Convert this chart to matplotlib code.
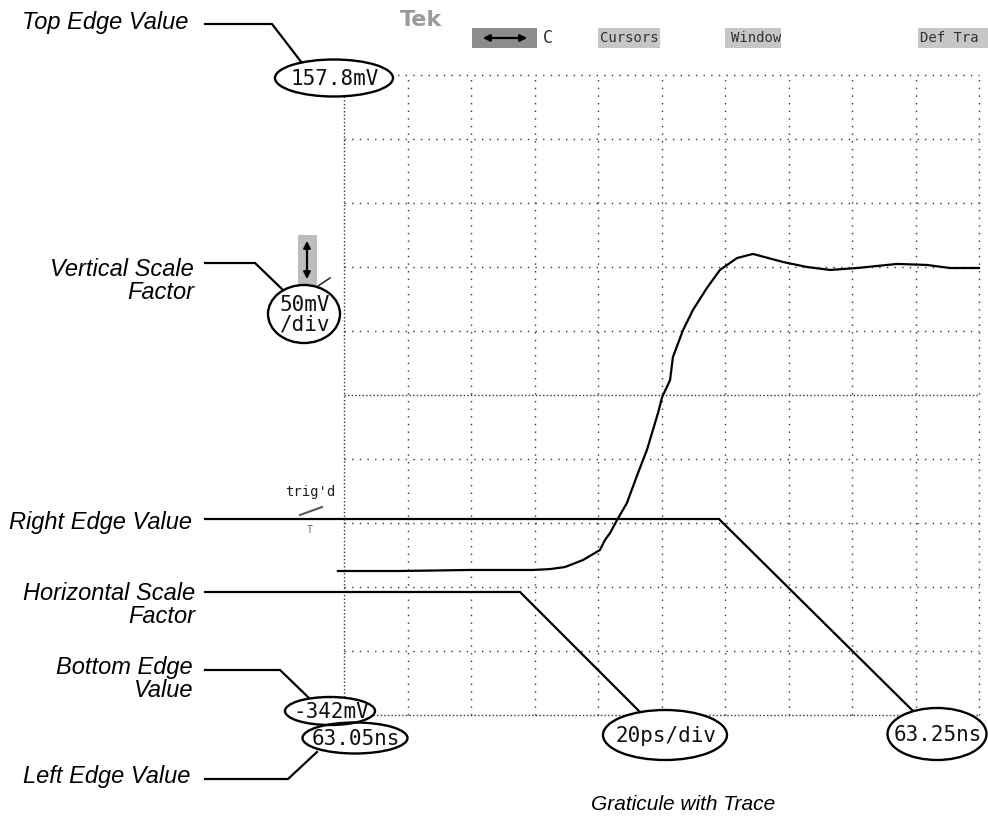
import matplotlib
matplotlib.use('Agg')
import matplotlib.pyplot as plt
from matplotlib.patches import Ellipse, Rectangle
import numpy as np

# Trace: time after the left edge (ps) and voltage (mV)
trace_t = [-1.9, 17.6, 39.7, 59.5, 64.9, 69.6, 75.3, 80.6, 82.2, 83.8, 86.0,
           89.1, 92.6, 95.4, 97.3, 98.9, 100.2, 102.7, 103.6, 106.8, 109.9,
           114.3, 118.4, 123.8, 128.8, 138.3, 145.8, 153.1, 161.6, 174.2,
           183.6, 190.9, 200.0]
trace_mv = [-229.7, -229.7, -228.9, -228.9, -228.2, -226.6, -221.1, -213.3,
            -205.5, -200.0, -189.9, -176.6, -153.1, -135.2, -119.5, -106.3,
            -93.8, -80.5, -62.5, -41.4, -25.8, -8.6, 5.5, 14.8, 18.0, 11.7,
            7.8, 5.5, 7.0, 10.2, 9.4, 7.0, 7.0]

# Graticule settings
top_mv = 157.8
mv_per_div = 50
ps_per_div = 20
n_div = 10

callout_labels = ["Top Edge Value", "Vertical Scale\nFactor", "Right Edge Value",
                  "Horizontal Scale\nFactor", "Bottom Edge\nValue", "Left Edge Value"]
readouts = ["157.8mV", "50mV\n/div", "63.25ns", "20ps/div", "-342mV", "63.05ns"]
menu_items = ["C", "Cursors", "Window", "Def Tra"]
caption = "Graticule with Trace"

W, H = 988, 827
fig = plt.figure(figsize=(W / 100, H / 100), dpi=100)

# graticule axes (data coordinates)
gl, gr, gt, gb = 344, 979, 75, 715
ax = fig.add_axes([gl / W, 1 - gb / H, (gr - gl) / W, (gb - gt) / H])
ax.set_zorder(1)
bottom_mv = top_mv - mv_per_div * n_div
ax.set_xlim(0, ps_per_div * n_div)
ax.set_ylim(bottom_mv, top_mv)
ax.axis('off')

x_div = np.linspace(0, ps_per_div * n_div, n_div + 1)
y_div = np.linspace(bottom_mv, top_mv, n_div + 1)
sparse = (0, (1, 4.5))
dense = (0, (1, 1.6))
for i, xv in enumerate(x_div):
    ls = dense if i == 0 else sparse
    ax.axvline(xv, color='#333333', lw=1.0, ls=ls, clip_on=False)
for i, yv in enumerate(y_div):
    ls = dense if i in (0, 5) else sparse
    ax.axhline(yv, color='#333333', lw=1.0, ls=ls, clip_on=False)

ax.plot(trace_t, trace_mv, color='black', lw=1.6, clip_on=False)

# overlay axes in pixel coordinates for callouts
ov = fig.add_axes([0, 0, 1, 1])
ov.set_zorder(2)
ov.set_xlim(0, W)
ov.set_ylim(H, 0)
ov.axis('off')
ov.patch.set_alpha(0)

label_font = dict(family='Liberation Sans', style='italic', fontsize=17,
                  ha='right', va='center', linespacing=0.95, color='black')
label_pos = [(188, 23), (194, 281), (192, 522), (195, 605), (193, 679), (190, 777)]
leaders = [
    [(205, 24), (272, 24), (302, 63)],
    [(205, 263), (255, 263), (283, 290)],
    [(205, 519), (719, 519), (912, 710)],
    [(205, 592), (520, 592), (640, 712)],
    [(205, 670), (280, 670), (308, 697)],
    [(205, 779), (288, 779), (317, 752)],
]
for text, (lx, ly), pts in zip(callout_labels, label_pos, leaders):
    ov.text(lx, ly, text, **label_font)
    xs, ys = zip(*pts)
    ov.plot(xs, ys, color='black', lw=1.6, solid_joinstyle='miter')

# readout ellipses (order matches readouts); fills first, outlines on top
ell = [((334, 78), 118, 37), ((304, 314), 72, 58), ((937, 734), 99, 52),
       ((665, 735), 124, 50), ((330, 711), 90, 28), ((355, 738), 105, 31)]
for c, w, h in ell:
    ov.add_patch(Ellipse(c, w, h, facecolor='white', edgecolor='none', zorder=3))
for text, (c, w, h) in zip(readouts, ell):
    ov.add_patch(Ellipse(c, w, h, facecolor='none', edgecolor='black', lw=1.7,
                         zorder=4))
    ov.text(c[0] + 1, c[1] + 1, text, family='DejaVu Sans Mono', fontsize=15,
            ha='center', va='center', linespacing=1.0, color='#111111', zorder=5)

# vertical scale icon
ov.add_patch(Rectangle((298, 235), 19, 50, facecolor='#bdbdbd', edgecolor='none'))
ov.annotate('', xy=(307, 238), xytext=(307, 282),
            arrowprops=dict(arrowstyle='<|-|>', color='black', lw=1.6,
                            mutation_scale=10))
ov.plot([318, 330], [286, 278], color='#333333', lw=1.2)

# trigger marker
ov.text(310, 492, "trig'd", family='DejaVu Sans Mono', fontsize=10,
        ha='center', va='center', color='#222222')
ov.plot([300, 322], [515, 507], color='#555555', lw=1.5)
ov.text(310, 530, "T", family='DejaVu Sans Mono', fontsize=7,
        ha='center', va='center', color='#666666')

# top menu
ov.text(400, 20, "Tek", family='DejaVu Sans', fontsize=16, fontweight='bold',
        ha='left', va='center', color='#9a9a9a')
ov.add_patch(Rectangle((472, 28), 65, 20, facecolor='#8c8c8c', edgecolor='none'))
ov.annotate('', xy=(480, 38), xytext=(530, 38),
            arrowprops=dict(arrowstyle='<|-|>', color='black', lw=1.6,
                            mutation_scale=10))
ov.text(548, 38, menu_items[0], family='DejaVu Sans Mono', fontsize=12,
        ha='center', va='center', color='#333333')
for text, (bx, bw) in zip(menu_items[1:], [(598, 62), (725, 56), (918, 70)]):
    ov.add_patch(Rectangle((bx, 28), bw, 20, facecolor='#c6c6c6', edgecolor='none'))
    ov.text(bx + 31, 38, text, family='DejaVu Sans Mono', fontsize=10,
            ha='center', va='center', color='#333333')

ov.text(683, 805, caption, family='Liberation Sans', style='italic',
        fontsize=15, ha='center', va='center')

fig.savefig('out.png', dpi=100, facecolor='white')
